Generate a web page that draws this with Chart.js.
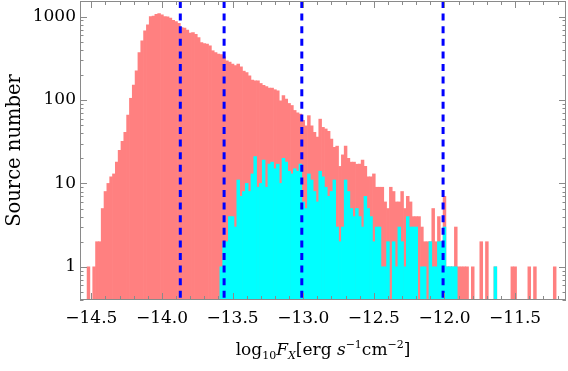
<!DOCTYPE html>
<html>
<head>
<meta charset="utf-8">
<script src="https://cdn.jsdelivr.net/npm/chart.js@4.4.1/dist/chart.umd.min.js"></script>
<style>
  html, body { margin: 0; padding: 0; background: #fff; }
</style>
</head>
<body>
<canvas id="hist" width="568" height="371"></canvas>
<script>
// bins are 0.02 dex wide, first one centred on -14.52
const binFirst = -14.52;
const binWidth = 0.02;

// red histogram: all sources, one count per bin
const allCounts = [
  1, 0, 1, 2, 2, 5, 8, 10, 12, 13,
  18, 25, 32, 41, 66, 105, 151, 224, 371, 512,
  674, 795, 1000, 1019, 1067, 1086, 1048, 1000, 995, 960,
  906, 873, 830, 740, 730, 690, 633, 644, 615, 560,
  490, 475, 468, 447, 390, 370, 356, 350, 330, 295,
  285, 270, 258, 270, 250, 222, 214, 195, 174, 170,
  170, 158, 150, 145, 139, 139, 133, 129, 98, 113,
  103, 91, 86, 75, 70, 68, 57, 49, 65, 49,
  41, 36, 59, 47, 45, 42, 34, 27, 28, 16,
  22, 28, 20, 18, 18, 17, 17, 19, 16, 12,
  12, 13, 9, 9, 9, 6, 5, 9, 8, 6,
  6, 8, 5, 7, 6, 4, 4, 4, 3, 2,
  2, 2, 5, 2, 4, 2, 7, 1, 1, 1,
  3, 1, 1, 1, 1, 0, 1, 0, 0, 2,
  0, 2, 0, 0, 1, 0, 0, 0, 0, 0,
  1, 1, 0, 0, 0, 0, 1, 0, 1, 0,
  0, 0, 0, 0, 0, 1
];

// cyan histogram: the sub-sample, starts at bin 47
const subStart = 47;
const subCounts = [
  1, 2, 2, 4, 4, 3, 11, 7, 8, 10,
  8, 13, 21, 9, 10, 19, 9, 17, 18, 15,
  17, 10, 20, 18, 14, 13, 15, 14, 17, 6,
  5, 13, 11, 8, 6, 14, 12, 9, 7, 8,
  11, 3, 2, 3, 11, 8, 5, 4, 5, 4,
  3, 7, 5, 4, 2, 3, 3, 1, 1, 2,
  0, 2, 1, 3, 2, 1, 4, 3, 3, 3,
  0, 1, 1, 0, 2, 1, 1, 2, 2, 3,
  1, 1, 1, 1, 0,
  0, 0, 0, 0, 0, 0, 0, 0, 0, 0, 0, 0,
  1
];

const xTicks = [-14.5, -14.0, -13.5, -13.0, -12.5, -12.0, -11.5];
const yTicks = [1, 10, 100, 1000];
const cutLines = [-13.87, -13.56, -13.01, -12.01];

const serif = "'DejaVu Serif', serif";

function binCentre(i) {
  return +(binFirst + i * binWidth).toFixed(2);
}

const redData = allCounts.map((n, i) => ({x: binCentre(i), y: n}));
const cyanData = subCounts.map((n, i) => ({x: binCentre(subStart + i), y: n}));

function fmtMinus(v) {
  return v < 0 ? "\u2212" + Math.abs(v).toFixed(1) : v.toFixed(1);
}

const framePlugin = {
  id: "frame",
  afterDatasetsDraw(chart) {
    const {ctx, chartArea: a, scales: {x}} = chart;
    ctx.save();
    ctx.strokeStyle = "#0000ff";
    ctx.lineWidth = 3;
    ctx.setLineDash([7, 5.6]);
    cutLines.forEach(v => {
      const px = x.getPixelForValue(v);
      ctx.beginPath();
      ctx.moveTo(px, a.top);
      ctx.lineTo(px, a.bottom);
      ctx.stroke();
    });
    ctx.restore();
  },
  afterDraw(chart) {
    const {ctx, chartArea: a, scales: {x, y}} = chart;
    ctx.save();
    ctx.strokeStyle = "#8a8a8a";
    ctx.lineWidth = 1;
    ctx.strokeRect(a.left + 0.5, a.top + 0.5, a.right - a.left - 1, a.bottom - a.top - 1);

    ctx.beginPath();
    // x ticks, major every 0.5, minor every 0.1, on bottom and top
    for (let t = -14.5; t <= -11.1; t += 0.1) {
      const px = Math.round(x.getPixelForValue(t)) + 0.5;
      const major = Math.abs(t * 2 - Math.round(t * 2)) < 1e-6;
      const len = major ? 7 : 4;
      ctx.moveTo(px, a.bottom); ctx.lineTo(px, a.bottom - len);
      ctx.moveTo(px, a.top); ctx.lineTo(px, a.top + len);
    }
    // y ticks: decades and 2..9 minors, left and right
    for (let d = 0.1; d <= 1000; d *= 10) {
      for (let m = 1; m <= 9; m++) {
        const v = d * m;
        if (v < y.min || v > y.max) continue;
        const py = Math.round(y.getPixelForValue(v)) + 0.5;
        const len = m === 1 ? 7 : 3.5;
        ctx.moveTo(a.left, py); ctx.lineTo(a.left + len, py);
        ctx.moveTo(a.right, py); ctx.lineTo(a.right - len, py);
      }
    }
    ctx.stroke();

    // x axis label with sub/superscripts
    const big = 17, small = 11;
    const parts = [
      {t: "log", s: big, it: false, dy: 0},
      {t: "10", s: small, it: false, dy: 4},
      {t: "F", s: big, it: true, dy: 0},
      {t: "X", s: small, it: true, dy: 4},
      {t: "[erg ", s: big, it: false, dy: 0},
      {t: "s", s: big, it: true, dy: 0},
      {t: "\u22121", s: small, it: false, dy: -7},
      {t: "cm", s: big, it: false, dy: 0},
      {t: "\u22122", s: small, it: false, dy: -7},
      {t: "]", s: big, it: false, dy: 0}
    ];
    const fontOf = p => (p.it ? "italic " : "") + p.s + "px " + serif;
    let total = 0;
    parts.forEach(p => { ctx.font = fontOf(p); p.w = ctx.measureText(p.t).width; total += p.w; });
    let cx = (a.left + a.right) / 2 - total / 2;
    ctx.fillStyle = "#000";
    ctx.textBaseline = "alphabetic";
    ctx.textAlign = "left";
    parts.forEach(p => {
      ctx.font = fontOf(p);
      ctx.fillText(p.t, cx, 355 + p.dy);
      cx += p.w;
    });
    ctx.restore();
  }
};

new Chart(document.getElementById("hist"), {
  type: "bar",
  data: {
    datasets: [
      {
        label: "all",
        data: redData,
        backgroundColor: "#ff8080",
        borderWidth: 0,
        order: 2
      },
      {
        label: "sub",
        data: cyanData,
        backgroundColor: "#00ffff",
        borderWidth: 0,
        order: 1
      }
    ]
  },
  options: {
    responsive: false,
    animation: false,
    devicePixelRatio: 1,
    layout: {padding: {left: 0, right: 2, top: 1, bottom: 0}},
    datasets: {
      bar: {grouped: false, barPercentage: 1, categoryPercentage: 1}
    },
    plugins: {legend: {display: false}, tooltip: {enabled: false}},
    scales: {
      x: {
        type: "linear",
        offset: false,
        min: -14.58,
        max: -11.14,
        grid: {display: false, drawTicks: false},
        border: {display: false},
        afterBuildTicks: s => { s.ticks = xTicks.map(v => ({value: v})); },
        afterFit: s => { s.height = 71; s.paddingLeft = 0; s.paddingRight = 0; },
        ticks: {
          autoSkip: false,
          maxRotation: 0,
          padding: 8,
          color: "#000",
          font: {family: serif, size: 17},
          callback: v => fmtMinus(v)
        }
      },
      y: {
        type: "logarithmic",
        min: 0.4,
        max: 1540,
        grid: {display: false, drawTicks: false},
        border: {display: false},
        afterBuildTicks: s => { s.ticks = yTicks.map(v => ({value: v})); },
        afterFit: s => { s.width = 80; s.paddingTop = 0; s.paddingBottom = 0; },
        ticks: {
          padding: 4,
          color: "#000",
          font: {family: serif, size: 17},
          callback: v => String(v)
        },
        title: {
          display: true,
          text: "Source number",
          color: "#000",
          font: {family: serif, size: 19.5},
          padding: {top: 3, bottom: 0}
        }
      }
    }
  },
  plugins: [framePlugin]
});
</script>
</body>
</html>
